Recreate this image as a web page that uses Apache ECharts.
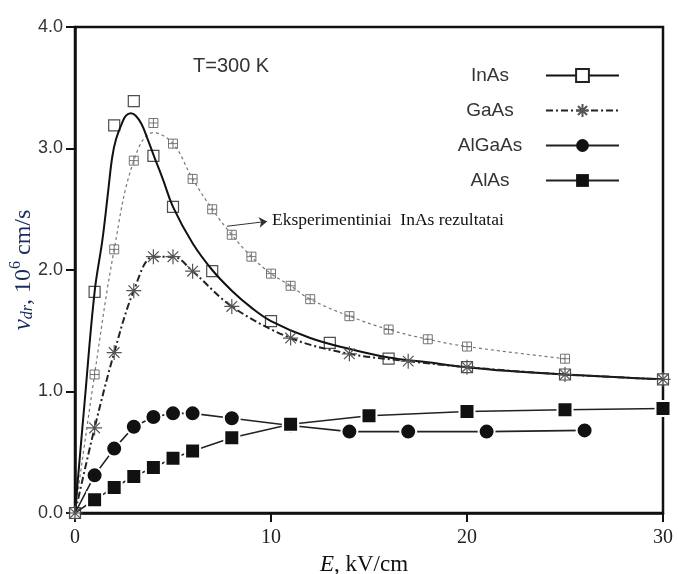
<!DOCTYPE html>
<html>
<head>
<meta charset="utf-8">
<script src="https://cdn.jsdelivr.net/npm/echarts@6/dist/echarts.min.js"></script>
<style>
html, body { margin: 0; padding: 0; background: #fff; }
#chart { width: 678px; height: 574px; }
</style>
</head>
<body>
<div id="chart"></div>
<script>
// InAs (theory) markers and curve
var inasE = [0, 1, 2, 3, 4, 5, 7, 10, 13, 16, 20, 25, 30];
var inasV = [0, 1.82, 3.19, 3.39, 2.94, 2.52, 1.99, 1.58, 1.40, 1.27, 1.20, 1.14, 1.10];
var inasCurveE = [0, 0.5, 1, 1.4, 1.7, 1.9, 2.1, 2.4, 2.6, 2.85, 3.1, 3.4, 3.7, 4, 4.5, 5, 6, 7, 8, 9, 10, 12, 14, 16, 18, 20, 22, 25, 28, 30];
var inasCurveV = [0, 0.93, 1.82, 2.25, 2.66, 2.93, 3.08, 3.21, 3.27, 3.29, 3.27, 3.20, 3.08, 2.95, 2.74, 2.52, 2.22, 2.00, 1.83, 1.69, 1.58, 1.44, 1.35, 1.28, 1.24, 1.20, 1.17, 1.14, 1.115, 1.10];

// experimental InAs
var expE = [0, 1, 2, 3, 4, 5, 6, 7, 8, 9, 10, 11, 12, 14, 16, 18, 20, 25];
var expV = [0, 1.14, 2.17, 2.90, 3.21, 3.04, 2.75, 2.50, 2.29, 2.11, 1.97, 1.87, 1.76, 1.62, 1.51, 1.43, 1.37, 1.27];
var expCurveE = [0, 1, 2, 3, 4, 5, 6, 7, 8, 9, 10, 11, 12, 14, 16, 18, 20, 25];
var expCurveV = [0, 1.14, 2.17, 2.90, 3.13, 3.04, 2.75, 2.50, 2.29, 2.11, 1.97, 1.87, 1.76, 1.62, 1.51, 1.43, 1.37, 1.27];

var gaasE = [0, 1, 2, 3, 4, 5, 6, 8, 11, 14, 17, 20, 25, 30];
var gaasV = [0, 0.70, 1.32, 1.83, 2.11, 2.11, 1.99, 1.70, 1.44, 1.31, 1.25, 1.20, 1.14, 1.10];

var algaasE = [0, 1, 2, 3, 4, 5, 6, 8, 11, 14, 17, 21, 26];
var algaasV = [0, 0.31, 0.53, 0.71, 0.79, 0.82, 0.82, 0.78, 0.72, 0.67, 0.67, 0.67, 0.68];

var alasE = [0, 1, 2, 3, 4, 5, 6, 8, 11, 15, 20, 25, 30];
var alasV = [0, 0.11, 0.21, 0.30, 0.375, 0.45, 0.51, 0.62, 0.73, 0.80, 0.835, 0.85, 0.86];

var legendNames = ['InAs', 'GaAs', 'AlGaAs', 'AlAs'];

var asterisk = 'path://M0,-10L0,10M-10,0L10,0M-7.1,-7.1L7.1,7.1M-7.1,7.1L7.1,-7.1';
var crossSquare = 'path://M-5,-5H5V5H-5ZM0,-5V5M-5,0H5';

function pairs(xs, ys, skipFirst) {
	var out = [];
	for (var i = 0; i < xs.length; i++) {
		if (skipFirst && i == 0) out.push({ value: [xs[i], ys[i]], symbol: 'none' });
		else out.push([xs[i], ys[i]]);
	}
	return out;
}

var serif = '"Liberation Serif", "Times New Roman", serif';
var sans = '"Liberation Sans", Arial, sans-serif';
var navy = '#1a2a5e';

var chart = echarts.init(document.getElementById('chart'));
var option = {
	animation: false,
	title: {
		text: 'T=300 K',
		left: 188, top: 51,
		textStyle: { fontFamily: sans, fontSize: 20, fontWeight: 'normal', color: '#333' }
	},
	legend: {
		data: [
			{ name: legendNames[0] },
			{ name: legendNames[1] },
			{ name: legendNames[2], itemStyle: { borderWidth: 0 } },
			{ name: legendNames[3], itemStyle: { borderWidth: 0 } }
		],
		orient: 'vertical',
		align: 'right',
		right: 53, top: 61,
		itemWidth: 73, itemHeight: 16, itemGap: 16,
		lineStyle: { width: 2 },
		formatter: function (name) { return '{c|' + name + '}'; },
		textStyle: {
			padding: [0, 16, 0, 0],
			rich: { c: { width: 70, align: 'center', fontFamily: sans, fontSize: 19, color: '#333' } }
		}
	},
	grid: {
		left: 75, right: 15, top: 27, bottom: 61,
		containLabel: false, outerBoundsMode: 'none',
		show: true, borderColor: '#111', borderWidth: 2.5, backgroundColor: 'transparent'
	},
	xAxis: {
		type: 'value', min: 0, max: 30, interval: 10,
		name: '{e|E}{n|, kV/cm}',
		nameLocation: 'middle', nameGap: 40, nameMoveOverlap: false,
		nameTextStyle: {
			padding: [0, 10, 0, 0],
			rich: {
				e: { fontFamily: serif, fontSize: 23, fontStyle: 'italic', color: '#111' },
				n: { fontFamily: serif, fontSize: 23, color: '#111' }
			}
		},
		axisLine: { lineStyle: { color: '#111', width: 2.5 } },
		axisTick: { length: 9, lineStyle: { color: '#111', width: 2 } },
		axisLabel: { fontFamily: serif, fontSize: 20, color: '#222', margin: 15 },
		splitLine: { show: false }
	},
	yAxis: {
		type: 'value', min: 0, max: 4, interval: 1,
		name: '{v|v}{sub|dr}{n|, 10}{sup|6}{n| cm/s}',
		nameLocation: 'middle', nameGap: 39, nameMoveOverlap: false,
		nameTextStyle: {
			rich: {
				v: { fontFamily: serif, fontSize: 25, fontStyle: 'italic', color: navy, lineHeight: 26, verticalAlign: 'bottom' },
				sub: { fontFamily: serif, fontSize: 16, fontStyle: 'italic', color: navy, lineHeight: 22, verticalAlign: 'bottom' },
				n: { fontFamily: serif, fontSize: 24, color: navy, lineHeight: 26, verticalAlign: 'bottom' },
				sup: { fontFamily: serif, fontSize: 16, color: navy, lineHeight: 28, verticalAlign: 'top' }
			}
		},
		axisLine: { lineStyle: { color: '#111', width: 2.5 } },
		axisTick: { length: 9, lineStyle: { color: '#111', width: 2 } },
		axisLabel: {
			fontFamily: sans, fontSize: 18, color: '#333', margin: 12,
			formatter: function (v) { return v.toFixed(1); }
		},
		splitLine: { show: false }
	},
	series: [
		{
			name: 'expCurve', type: 'line', smooth: 0.4,
			data: pairs(expCurveE, expCurveV), showSymbol: false, symbol: 'none',
			lineStyle: { color: '#777', width: 1.2, type: [3, 3] },
			markLine: {
				silent: true, symbol: ['none', 'arrow'], symbolSize: 8,
				lineStyle: { color: '#333', width: 1, type: 'solid' },
				label: {
					position: 'end', distance: 5, color: '#111',
					fontFamily: serif, fontSize: 17.5,
					formatter: 'Eksperimentiniai  InAs rezultatai'
				},
				data: [[{ coord: [7.75, 2.36] }, { coord: [9.8, 2.40] }]]
			}
		},
		{
			name: 'InAs', type: 'line', smooth: 0.4,
			data: pairs(inasCurveE, inasCurveV), showSymbol: false,
			symbol: 'rect',
			itemStyle: { color: '#fff', borderColor: '#222', borderWidth: 1.2 },
			lineStyle: { color: '#111', width: 2 }
		},
		{
			name: 'GaAs', type: 'line', smooth: 0.35,
			data: pairs(gaasE, gaasV), symbol: asterisk, symbolSize: 15,
			itemStyle: { color: 'transparent', borderColor: '#555', borderWidth: 1.2 },
			lineStyle: { color: '#222', width: 2, type: [7, 3, 2, 3] }
		},
		{
			name: 'AlGaAs', type: 'line',
			data: pairs(algaasE, algaasV, true), symbol: 'circle', symbolSize: 16,
			itemStyle: { color: '#111', borderColor: '#fff', borderWidth: 2 },
			lineStyle: { color: '#222', width: 1.6 }
		},
		{
			name: 'AlAs', type: 'line',
			data: pairs(alasE, alasV, true), symbol: 'rect', symbolSize: 15,
			itemStyle: { color: '#111', borderColor: '#fff', borderWidth: 2 },
			lineStyle: { color: '#222', width: 1.6 }
		},
		{
			name: 'expPts', type: 'scatter',
			data: pairs(expE, expV), symbol: crossSquare, symbolSize: 9,
			itemStyle: { color: '#fff', borderColor: '#555', borderWidth: 1 }
		},
		{
			name: 'inasPts', type: 'scatter',
			data: pairs(inasE, inasV), symbol: 'rect', symbolSize: 11,
			itemStyle: { color: '#fff', borderColor: '#222', borderWidth: 1.2 }
		}
	]
};
chart.setOption(option);
</script>
</body>
</html>
